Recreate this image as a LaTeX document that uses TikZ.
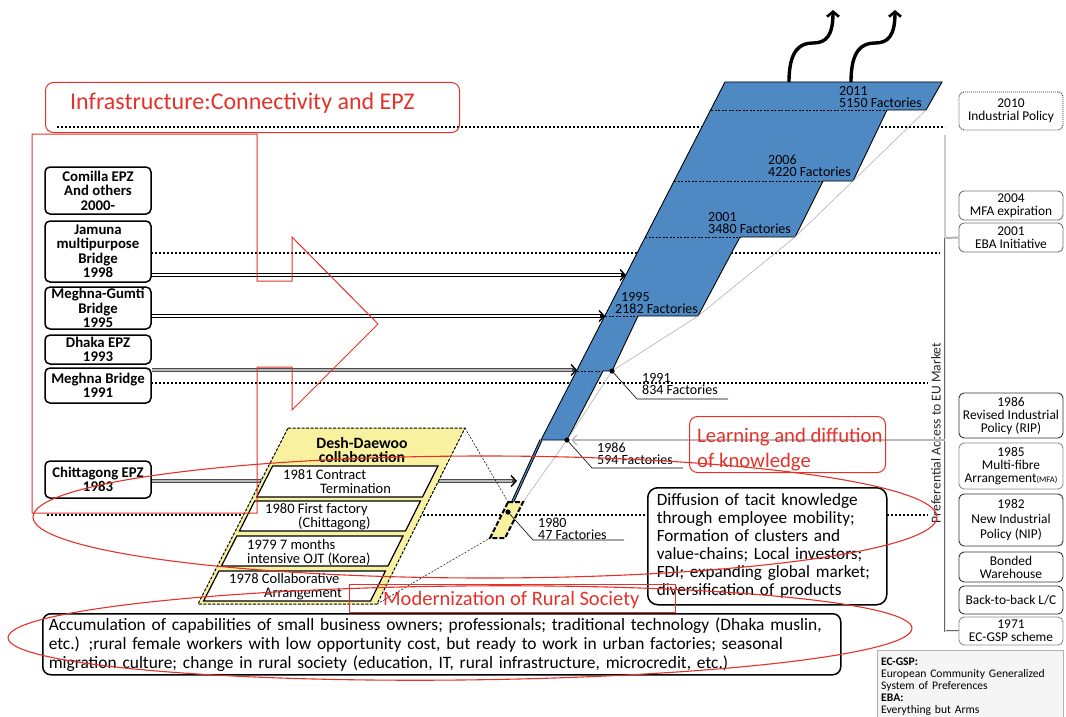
\documentclass[tikz,border=0pt]{standalone}
\usepackage{fontspec}
\setmainfont{Carlito}
\usetikzlibrary{arrows.meta}
\definecolor{redline}{RGB}{228,50,42}
\definecolor{bluefill}{RGB}{79,137,196}
\definecolor{paleyellow}{RGB}{248,242,160}
\newcommand{\fsz}[2]{\fontsize{#1}{#2}\selectfont}

\begin{document}
\begin{tikzpicture}[x=1pt,y=-1pt,
  lbox/.style={draw, line width=1.5pt, rounded corners=5pt, fill=white, align=center,
    inner sep=0pt, minimum width=106pt, font=\bfseries\fsz{14.8}{14.5}},
  rbox/.style={draw=#1, line width=0.9pt, rounded corners=5pt, fill=white, align=center,
    inner sep=0pt, minimum width=104pt, font=\fsz{13.4}{13}},
  rbox/.default=black!80,
  dotrule/.style={line width=2.2pt, dash pattern=on 2pt off 2pt},
  hollowarr/.style={line width=3.4pt, -{Straight Barb[length=5pt,width=11pt,line width=1.4pt]},
    postaction={draw=white, line width=1.5pt, -, shorten >=5pt}},
  greyarr/.style={draw=black!70, line width=3.4pt,
    -{Straight Barb[length=5pt,width=11pt,line width=1.4pt,color=black]},
    postaction={draw=gray!55, line width=1.6pt, -, shorten >=5pt}},
  flab/.style={align=left, inner sep=0pt, anchor=north west, font=\fsz{14}{12}},
  leader/.style={line width=0.6pt},
  dband/.style={align=left, inner sep=0pt, anchor=west, font=\fsz{14.5}{14}},
  redbox/.style={draw=redline, line width=1pt},
  wavy/.style={line width=3.4pt, -{Straight Barb[length=5pt,width=12pt,line width=2.6pt]}}
]
\useasboundingbox (0,0) rectangle (1066,717);

% ---------- horizontal dotted time rules ----------
\draw[dotrule] (57,127) -- (945,127);
\draw[dotrule] (151,253) -- (940,253);
\draw[dotrule] (151,383) -- (928,383);
\draw[dotrule] (47,515) -- (928,515);

% ---------- infrastructure boxes on the left ----------
\node[lbox, minimum height=47pt] (com) at (98,190.5) {Comilla EPZ\\And others\\2000-};
\node[lbox, minimum height=61pt] (jam) at (98,251.5) {Jamuna\\multipurpose\\Bridge\\1998};
\node[lbox, minimum height=42pt] (mgb) at (98,308) {Meghna-Gumti\\Bridge\\1995};
\node[lbox, minimum height=29pt] (dha) at (98,349.5) {Dhaka EPZ\\1993};
\node[lbox, minimum height=35pt] (mb) at (98,385.5) {Meghna Bridge\\1991};
\node[lbox, minimum height=37pt] (chi) at (98,479.5) {Chittagong EPZ\\1983};

% ---------- growth shape corners ----------
\coordinate (b1) at (725,82);  \coordinate (b2) at (942,82);
\coordinate (b3) at (926,110); \coordinate (b4) at (887,110);
\coordinate (b5) at (853,181); \coordinate (b6) at (823,181);
\coordinate (b7) at (795,237); \coordinate (b8) at (740,237);
\coordinate (b9) at (698,316); \coordinate (b10) at (638,316);
\coordinate (b11) at (612,371); \coordinate (b12) at (603,371);
\coordinate (b13) at (567,440); \coordinate (b14) at (541,440);
\coordinate (d80) at (508,512);
\coordinate (jT) at (626,275);
\coordinate (gT) at (605,316);
\coordinate (dT) at (577,370);
\coordinate (cT) at (517,481);

% ---------- arrows from the infrastructure boxes ----------
\draw[hollowarr] (jam.east |- jT) -- (jT);
\draw[hollowarr] (mgb.east |- gT) -- (gT);
\draw[greyarr] (mb.east |- dT) -- (dT);
\draw[greyarr] (chi.east |- cT) -- (cT);

% ---------- Desh-Daewoo collaboration ----------
\draw[fill=paleyellow, line width=1pt, dash pattern=on 3pt off 1.5pt]
  (288,428) -- (465,428) -- (377,604) -- (198,604) -- cycle;
\node[font=\bfseries\fsz{15.7}{14}, align=center, inner sep=0pt] (desh) at (362,450) {Desh-Daewoo\\collaboration};
\draw[fill=white, line width=1.2pt] (272.6,466) -- (438,466) -- (422.5,497) -- (256.7,497) -- cycle;
\draw[fill=white, line width=1.2pt] (254.7,501) -- (420.5,501) -- (405.5,531) -- (239.4,531) -- cycle;
\draw[fill=white, line width=1.2pt] (236.8,536) -- (403,536) -- (388,566) -- (221.5,566) -- cycle;
\draw[fill=white, line width=1.2pt] (218.9,571) -- (385.5,571) -- (370.5,601) -- (203.6,601) -- cycle;
\node[dband] (s81) at (283,482) {1981 Contract\\\hspace*{37pt}Termination};
\node[dband] (s80) at (265,517) {1980 First factory\\\hspace*{33pt}(Chittagong)};
\node[dband] (s79) at (247,552) {1979 7 months\\intensive OJT (Korea)};
\node[dband] (s78) at (229,587) {1978 Collaborative\\\hspace*{35pt}Arrangement};

% ---------- growth shape ----------
\filldraw[fill=bluefill, draw=black, line width=0.9pt]
  (b1) -- (b2) -- (b3) -- (b4) -- (b5) -- (b6) -- (b7) -- (b8) -- (b9) -- (b10)
  -- (b11) -- (b12) -- (b13) -- (b14) -- cycle;
\draw[line width=0.6pt, dash pattern=on 2pt off 1.5pt]
  (711,110) -- (b4) (674,181) -- (b6) (645,237) -- (b8) (605,316) -- (b10) (577,371) -- (b12);
\draw[gray!70, line width=0.5pt] (b3) -- (b5) -- (b7) -- (b9) -- (b11) -- (b13) -- (523,502);
\draw[line width=3pt] (b14) -- (d80);
\draw[bluefill, line width=1.1pt] (b14) -- (d80);

% thin dashed links from the collaboration frame
\draw[line width=0.5pt, dash pattern=on 2pt off 1.5pt] (465,428) -- (508,502);
\draw[line width=0.5pt, dash pattern=on 2pt off 1.5pt] (377,604) -- (490,538);
\draw[fill=paleyellow, line width=2pt, dash pattern=on 5pt off 2pt]
  (508,502) -- (523,502) -- (505,538) -- (490,538) -- cycle;

\fill (b11) circle (2.6pt);
\fill (b13) circle (2.6pt);
\fill (d80) circle (2.6pt);

% factory labels
\node[flab] (l11) at (839,86) {2011\\5150 Factories};
\node[flab] (l06) at (768,155) {2006\\4220 Factories};
\node[flab] (l01) at (708,212) {2001\\3480 Factories};
\node[flab] (l95) at (615,292) {\hspace*{6pt}1995\\2182 Factories};
\node[flab] (l91) at (642,373) {1991\\834 Factories};
\node[flab] (l86) at (597,443) {1986\\594 Factories};
\node[flab] (l80) at (538,518) {1980\\47 Factories};
\draw[leader] (b11) -- (637,399) -- (728,399);
\draw[leader] (b13) -- (592,468) -- (683,468);
\draw[leader] (d80) -- (533,540) -- (624,540);

% rising arrows
\draw[wavy] (789,82) .. controls (789,50) and (800,43) .. (813,43)
  .. controls (826,43) and (833,36) .. (833,10);
\draw[wavy] (851,82) .. controls (851,50) and (862,43) .. (875,43)
  .. controls (888,43) and (895,36) .. (895,10);

% ---------- policy column on the right ----------
\node[rbox=black!80, dash pattern=on 1pt off 1pt] (ip10) at (1011,111) [minimum height=38pt] {2010\\Industrial Policy};
\node[rbox=black!55, minimum height=29pt] (mfa04) at (1011,205.5) {2004\\MFA expiration};
\node[rbox=black!55, minimum height=29pt] (eba) at (1011,237.5) {2001\\EBA Initiative};
\node[rbox=black!80, minimum height=45pt] (rip) at (1011,415.5) {1986\\Revised Industrial\\Policy (RIP)};
\node[rbox=black!45, minimum height=46pt] (mfa85) at (1011,466) {1985\\Multi-fibre\\Arrangement{\fsz{8.5}{9}(MFA)}};
\node[rbox=black!80, minimum height=52pt, font=\fsz{13.4}{15}] (nip) at (1011,520) {1982\\New Industrial\\Policy (NIP)};
\node[rbox=black!80, minimum height=30pt] (bw) at (1011,567) {Bonded\\Warehouse};
\node[rbox=black!80, minimum height=28pt] (btb) at (1011,600) {Back-to-back L/C};
\node[rbox=black!45, minimum height=28pt] (gsp) at (1011,631) {1971\\EC-GSP scheme};

\coordinate (vtop) at (945,135);
\coordinate (vmid) at (945,238);
\coordinate (vbot) at (945,631);
\draw[gray!40, line width=2pt] (vtop) -- (vmid);
\draw[gray!60, line width=2pt] (vmid) -- (eba.west);
\draw[black!60, line width=2.8pt] (vmid) -- (vbot) -- (gsp.west);
\draw[gray!20, line width=0.9pt] (vmid) -- (vbot) -- (gsp.west);

\node[rotate=90, font=\fsz{13.6}{14}, text=black!85, inner sep=0pt] (pref) at (936,433) {Preferential Access to EU Market};

\draw[gray!55, line width=2pt, shorten >=4pt,
  -{Straight Barb[length=5pt,width=10pt,line width=1.3pt]}] (945,440) -- (b13);

% ---------- text panels ----------
\node[draw, line width=1.5pt, rounded corners=10pt, fill=white, anchor=north west,
  minimum width=239pt, minimum height=117pt, text width=221pt, align=left, inner sep=0pt,
  font=\fsz{17.2}{18}] (diff) at (647,487)
  {Diffusion of tacit knowledge\\through employee mobility;\\Formation of clusters and\\value-chains; Local investors;\\FDI; expanding global market;\\diversification of products};

\node[draw, line width=1.5pt, rounded corners=8pt, fill=white, anchor=north west,
  minimum width=798pt, minimum height=61pt, text width=786pt, align=left, inner sep=0pt,
  font=\fsz{17.4}{19}] (rural) at (42,613)
  {Accumulation of capabilities of small business owners; professionals; traditional technology (Dhaka muslin,\\etc.) ;rural female workers with low opportunity cost, but ready to work in urban factories; seasonal\\migration culture; change in rural society (education, IT, rural infrastructure, microcredit, etc.)};

\node[draw=gray!60, fill=gray!8, anchor=north west, minimum width=186pt, minimum height=72pt,
  text width=178pt, align=left, inner sep=0pt, font=\fsz{11.6}{12}] (legend) at (877,650)
  {\textbf{EC-GSP:}\\European Community Generalized\\System of Preferences\\\textbf{EBA:}\\Everything but Arms};

% ---------- red overlays ----------
\node[redbox, rounded corners=8pt, anchor=north west, minimum width=414pt, minimum height=50pt] (infra) at (45,82) {};
\node[text=redline, font=\fsz{24}{26}, anchor=west, inner sep=0pt] (infratxt) at (70,103) {Infrastructure:Connectivity and EPZ};

\draw[redline, line width=1pt] (32,134) -- (257,134) -- (257,281) -- (292,281) -- (292,237)
  -- (378,324) -- (292,410) -- (292,367) -- (257,367) -- (257,513) -- (32,513) -- cycle;

\node[redbox, rounded corners=8pt, anchor=north west, minimum width=196pt, minimum height=56pt] (learn) at (689,416) {};
\node[text=redline, font=\fsz{20.7}{25}, anchor=west, align=left, inner sep=0pt] (learntxt) at (697,449.5) {Learning and diffution\\of knowledge};

\node[redbox, anchor=north west, minimum width=326pt, minimum height=28pt] (modern) at (349,584) {};
\node[text=redline, font=\fsz{20.5}{22}, anchor=west, inner sep=0pt] (moderntxt) at (383,600) {Modernization of Rural Society};

\draw[redline, line width=1.1pt] (485,517) ellipse [x radius=452pt, y radius=61pt];
\draw[redline, line width=1.1pt, rotate around={0.6:(460,633)}] (460,633) ellipse [x radius=452pt, y radius=47pt];

\end{tikzpicture}
\end{document}
